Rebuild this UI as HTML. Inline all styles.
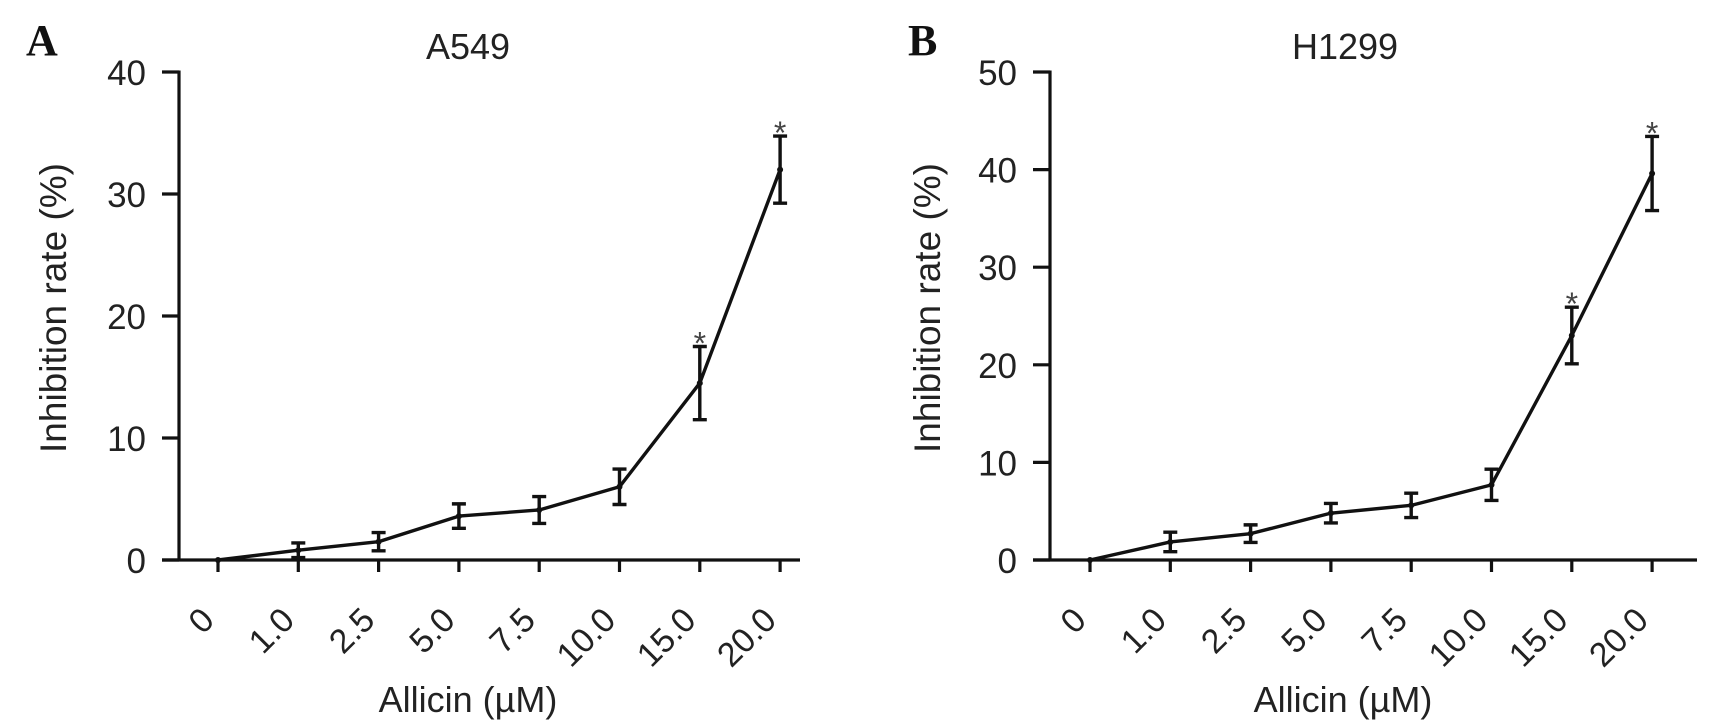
<!DOCTYPE html>
<html><head><meta charset="utf-8"><style>
body{margin:0;background:#fff;}
svg{display:block;font-family:"Liberation Sans",sans-serif;}
</style></head><body>
<svg id="chart" width="1711" height="725"></svg>
<script>
const categories = ["0","1.0","2.5","5.0","7.5","10.0","15.0","20.0"];
const aValues = [0,0.8,1.5,3.6,4.1,6.0,14.5,32.0];
const aErrors = [0,0.6,0.75,1.0,1.1,1.45,3.0,2.75];
const aSig = [false,false,false,false,false,false,true,true];
const aTicks = [0,10,20,30,40];
const bValues = [0,1.85,2.7,4.8,5.6,7.7,23.0,39.6];
const bErrors = [0,1.0,0.9,1.0,1.25,1.6,2.9,3.8];
const bSig = [false,false,false,false,false,false,true,true];
const bTicks = [0,10,20,30,40,50];

const NS="http://www.w3.org/2000/svg";
const svg=document.getElementById('chart');
function mk(tag,attrs,parent){const e=document.createElementNS(NS,tag);for(const k in attrs)e.setAttribute(k,attrs[k]);(parent||svg).appendChild(e);return e;}

function panel(cfg){
  const g=mk('g',{});
  
  
  const y0=560, yTop=72, ymax=cfg.ticks[cfg.ticks.length-1];
  const yS=v=>y0-(v/ymax)*(y0-yTop);
  const xS=i=>cfg.x0+i*80.3;
  const L=mk('text',{x:cfg.letterX,y:55,'font-family':'"Liberation Serif",serif','font-weight':'bold','font-size':44,fill:'#111'},g);
  L.textContent=cfg.letter;
  
  
  const T=mk('text',{x:cfg.titleX,y:59,'text-anchor':'middle','font-size':36,fill:'#222'},g);
  T.textContent=cfg.title;
  
  
  const ya=mk('line',{x1:cfg.axisX,y1:yTop-1.5,x2:cfg.axisX,y2:y0+1.5,stroke:'#111','stroke-width':3.2},g);
  
  
  const xa=mk('line',{x1:cfg.axisX-17,y1:y0,x2:cfg.axisEnd,y2:y0,stroke:'#111','stroke-width':3.2},g);
  
  
  cfg.ticks.forEach(t=>{
    mk('line',{x1:cfg.axisX-17,y1:yS(t),x2:cfg.axisX,y2:yS(t),stroke:'#111','stroke-width':3.2},g);
    const tl=mk('text',{x:cfg.axisX-33,y:yS(t)+13,'text-anchor':'end','font-size':35,fill:'#222'},g);
    tl.textContent=t;
    
    
  });
  categories.forEach((c,i)=>{
    const x=xS(i);
    mk('line',{x1:x,y1:y0,x2:x,y2:y0+12,stroke:'#111','stroke-width':3.2},g);
    const ax=x-2, ay=622;
    const tl=mk('text',{x:ax,y:ay,'text-anchor':'end','font-size':34,fill:'#222',transform:`rotate(-45 ${ax} ${ay})`},g);
    tl.textContent=c;
    
    
  });
  const yt=mk('text',{x:0,y:0,'text-anchor':'middle','font-size':37,fill:'#222',transform:`translate(${cfg.yTitleX} 308) rotate(-90)`},g);
  yt.textContent='Inhibition rate (%)';
  
  
  const xt=mk('text',{x:cfg.xTitleX,y:712,'text-anchor':'middle','font-size':36,fill:'#222'},g);
  xt.textContent='Allicin (\u00b5M)';
  
  
  const pts=cfg.values.map((v,i)=>xS(i)+','+yS(v)).join(' ');
  const pl=mk('polyline',{points:pts,fill:'none',stroke:'#111','stroke-width':3.4,'stroke-linejoin':'round'},g);
  
  
  cfg.values.forEach((v,i)=>{
    const x=xS(i),e=cfg.errors[i];
    if(e>0){
      const eb=mk('path',{d:`M${x},${yS(v+e)}V${yS(v-e)}M${x-7},${yS(v+e)}H${x+7}M${x-7},${yS(v-e)}H${x+7}`,stroke:'#111','stroke-width':3.4,fill:'none'},g);
      
      
    }
    const p=mk('circle',{cx:x,cy:yS(v),r:3,fill:'#111'},g);
    
    
    if(cfg.sig[i]){
      const s=mk('text',{x:x,y:yS(v+e)+8,'text-anchor':'middle','font-size':32,fill:'#444'},g);
      s.textContent='*';
      
      
    }
  });
}
panel({name:'panel-a-a549',letter:'A',letterX:26,title:'A549',titleX:468,axisX:179,axisEnd:800,x0:218,ticks:aTicks,values:aValues,errors:aErrors,sig:aSig,yTitleX:66,xTitleX:468});
panel({name:'panel-b-h1299',letter:'B',letterX:908,title:'H1299',titleX:1345,axisX:1050,axisEnd:1697,x0:1090,ticks:bTicks,values:bValues,errors:bErrors,sig:bSig,yTitleX:940,xTitleX:1343});
</script>
</body></html>
